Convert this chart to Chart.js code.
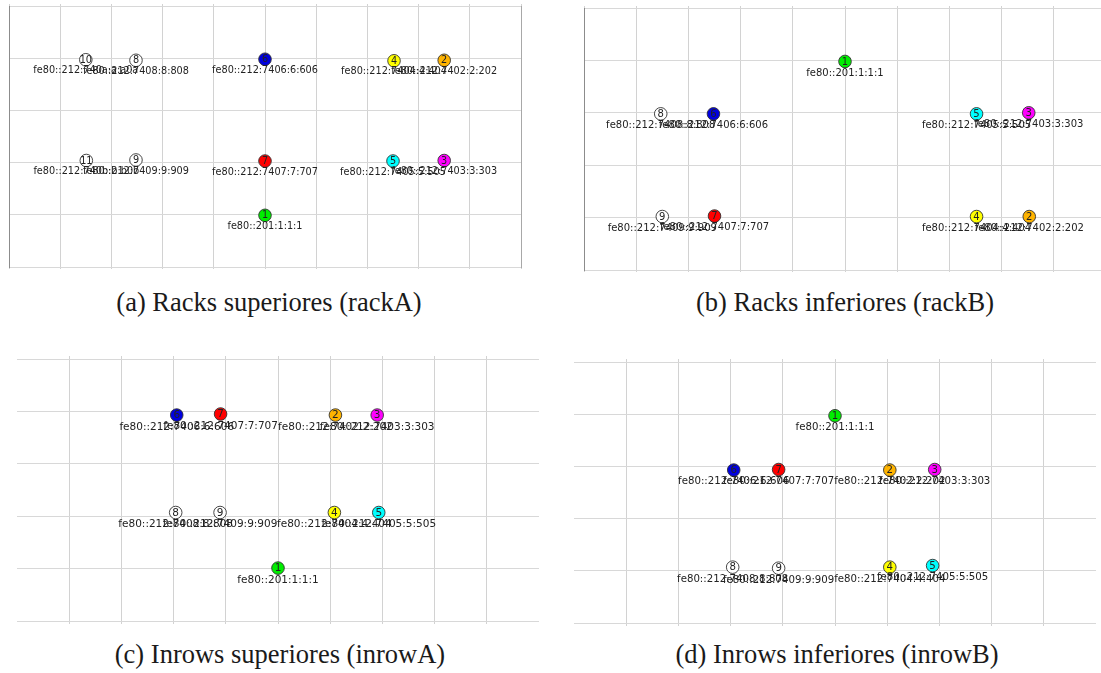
<!DOCTYPE html>
<html>
<head>
<meta charset="utf-8">
<title>Racks e inrows</title>
<script src="https://cdn.jsdelivr.net/npm/chart.js@4.4.1/dist/chart.umd.min.js"></script>
<style>
	html, body { margin: 0; padding: 0; background: #ffffff; overflow: hidden; }
	body { position: relative; width: 1101px; height: 673px; }
	canvas { position: absolute; }
	.caption {
		position: absolute;
		width: 500px;
		text-align: center;
		font-family: 'Liberation Serif', 'Times New Roman', serif;
		font-size: 26.5px;
		line-height: 26px;
		color: #1a1a1a;
		white-space: nowrap;
	}
</style>
</head>
<body>

<canvas id="rackA"></canvas>
<canvas id="rackB"></canvas>
<canvas id="inrowA"></canvas>
<canvas id="inrowB"></canvas>

<div class="caption" style="left: 19px; top: 289px;">(a) Racks superiores (rackA)</div>
<div class="caption" style="left: 595px; top: 289px;">(b) Racks inferiores (rackB)</div>
<div class="caption" style="left: 30px; top: 641px;">(c) Inrows superiores (inrowA)</div>
<div class="caption" style="left: 587px; top: 641px;">(d) Inrows inferiores (inrowB)</div>

<script>

// Node numbers, fill colours and link-local addresses
const nodeIds = [1, 2, 3, 4, 5, 6, 7, 8, 9, 10, 11];
const nodeColours = ['#00ee00', '#ffb400', '#ff00ff', '#ffff00', '#00ffff', '#0000e0', '#ff0000', '#ffffff', '#ffffff', '#ffffff', '#ffffff'];
const nodeAddresses = [
	'fe80::201:1:1:1',
	'fe80::212:7402:2:202',
	'fe80::212:7403:3:303',
	'fe80::212:7404:4:404',
	'fe80::212:7405:5:505',
	'fe80::212:7406:6:606',
	'fe80::212:7407:7:707',
	'fe80::212:7408:8:808',
	'fe80::212:7409:9:909',
	'fe80::212:740a:a:a0a',
	'fe80::212:740b:b:b0b'
];

// Racks superiores (rackA)
const rackANodes = [1, 2, 3, 4, 5, 6, 7, 8, 9, 10, 11];
const rackAX = [5, 8.5, 8.5, 7.52, 7.5, 5, 5, 2.48, 2.48, 1.5, 1.51];
const rackAY = [0.99, 3.96, 2.04, 3.95, 2.03, 3.98, 2.03, 3.96, 2.05, 3.97, 2.04];

// Racks inferiores (rackB)
const rackBNodes = [1, 2, 3, 4, 5, 6, 7, 8, 9];
const rackBX = [5, 8.53, 8.52, 7.52, 7.52, 2.48, 2.5, 1.47, 1.5];
const rackBY = [3.98, 1.02, 3.0, 1.02, 2.98, 2.98, 1.03, 2.98, 1.02];

// Inrows superiores (inrowA)
const inrowANodes = [1, 2, 3, 4, 5, 6, 7, 8, 9];
const inrowAX = [5, 6.1, 6.9, 6.08, 6.93, 3.06, 3.9, 3.04, 3.89];
const inrowAY = [1.01, 3.93, 3.93, 2.07, 2.07, 3.93, 3.95, 2.07, 2.07];

// Inrows inferiores (inrowB)
const inrowBNodes = [1, 2, 3, 4, 5, 6, 7, 8, 9];
const inrowBX = [5, 6.05, 6.91, 6.05, 6.87, 3.06, 3.92, 3.04, 3.92];
const inrowBY = [3.97, 2.93, 2.94, 1.07, 1.1, 2.93, 2.94, 1.07, 1.05];

// Axis ranges (same floor grid for every panel)
const xRange = [0, 10];
const yRange = [0, 5];


// Plugin to write the node number inside each circle and its address underneath
const nodeLabelPlugin = {
	id: 'nodeLabels',
	afterDatasetsDraw (chart, args, opts)
	{
		const ctx = chart.ctx;
		const meta = chart.getDatasetMeta(0);
		const nodes = chart.data.datasets[0].nodes;
		ctx.save();
		ctx.fillStyle = '#222222';
		ctx.textAlign = 'center';
		ctx.textBaseline = 'middle';
		ctx.font = opts.fontSize + 'px "DejaVu Sans"';
		meta.data.forEach((point, i) => {
			const id = nodes[i];
			ctx.fillText(String(id), point.x, point.y + 0.5);
			ctx.fillText(nodeAddresses[id - 1], point.x, point.y + opts.fontSize * 1.15);
		});
		ctx.restore();
	}
};


// Function to create one panel, with its plot area placed at the given page position
function createPanel (canvasId, area, nodes, xs, ys, style)
{
	const [left, top, width, height] = area;
	const pad = 3;
	const tick = style.tickLength;
	
	// Size and place the canvas so the chart area lands on the plot rectangle
	const canvas = document.getElementById(canvasId);
	canvas.width = width + 2 * pad;
	canvas.height = height + 2 * pad + 2 * tick;
	canvas.style.left = (left - pad) + 'px';
	canvas.style.top = (top - pad - tick) + 'px';
	
	// Vertical lines at the outer edges are only drawn where the panel has a frame
	const verticalGrid = (context) => {
		const v = context.tick ? context.tick.value : null;
		if (!style.frame && (v === xRange[0] || v === xRange[1])) {return 'rgba(0,0,0,0)';}
		return '#d2d2d2';
	};
	
	const scales = {
		x: {
			type: 'linear',
			position: 'bottom',
			min: xRange[0],
			max: xRange[1],
			ticks: {display: false, stepSize: 1},
			grid: {color: verticalGrid, tickLength: tick, drawTicks: true},
			border: {display: false}
		},
		xTop: {
			type: 'linear',
			position: 'top',
			min: xRange[0],
			max: xRange[1],
			ticks: {display: false, stepSize: 1},
			grid: {color: verticalGrid, tickLength: tick, drawTicks: true, drawOnChartArea: false},
			border: {display: false}
		},
		y: {
			type: 'linear',
			position: 'left',
			min: yRange[0],
			max: yRange[1],
			ticks: {display: false, stepSize: 1},
			grid: {color: '#d8d8d8', drawTicks: false},
			border: {display: style.frame, color: '#8c8c8c', width: 1}
		}
	};
	
	// Right-hand frame line
	if (style.rightFrame) {
		scales.yRight = {
			type: 'linear',
			position: 'right',
			min: yRange[0],
			max: yRange[1],
			ticks: {display: false},
			grid: {display: false},
			border: {display: true, color: '#a8a8a8', width: 1}
		};
	}
	
	return new Chart(canvas.getContext('2d'), {
		type: 'scatter',
		data: {
			datasets: [{
				nodes: nodes,
				data: nodes.map((id, i) => ({x: xs[i], y: ys[i]})),
				pointRadius: 6.3,
				pointHoverRadius: 6.3,
				pointBackgroundColor: nodes.map(id => nodeColours[id - 1]),
				pointBorderColor: '#333333',
				pointBorderWidth: 0.9,
				showLine: false
			}]
		},
		options: {
			responsive: false,
			animation: false,
			events: [],
			layout: {padding: pad, autoPadding: false},
			scales: scales,
			plugins: {
				legend: {display: false},
				tooltip: {enabled: false},
				nodeLabels: {fontSize: style.fontSize}
			}
		},
		plugins: [nodeLabelPlugin]
	});
}


// Draw the four panels
createPanel('rackA', [9, 6, 520, 261], rackANodes, rackAX, rackAY, {fontSize: 9.7, tickLength: 2, frame: true, rightFrame: true});
createPanel('rackB', [584, 8, 522, 262], rackBNodes, rackBX, rackBY, {fontSize: 10, tickLength: 2, frame: true, rightFrame: false});
createPanel('inrowA', [17, 359, 522, 262], inrowANodes, inrowAX, inrowAY, {fontSize: 10.5, tickLength: 3, frame: false, rightFrame: false});
createPanel('inrowB', [574, 362, 522, 261], inrowBNodes, inrowBX, inrowBY, {fontSize: 10.2, tickLength: 3, frame: false, rightFrame: false});

</script>
</body>
</html>
